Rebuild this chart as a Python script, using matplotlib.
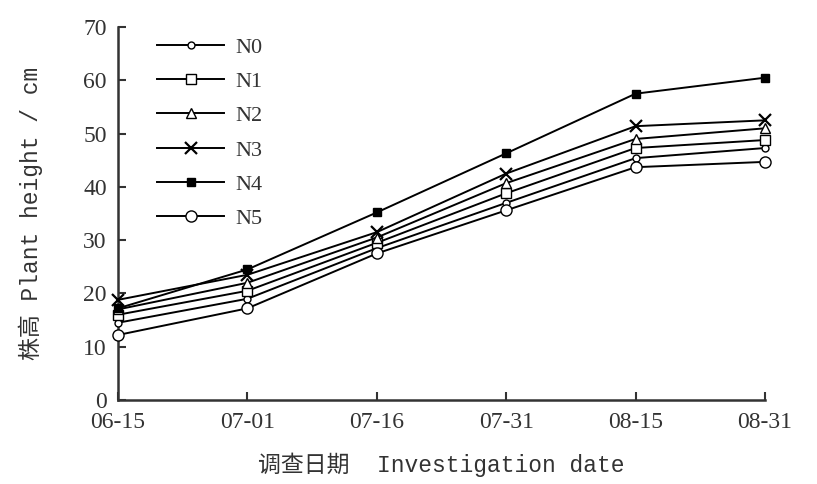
import numpy as np
import matplotlib.pyplot as plt

# 调查日期与各处理株高 (cm)
dates = ["06-15", "07-01", "07-16", "07-31", "08-15", "08-31"]
n0 = [14.5, 19.0, 28.5, 37.0, 45.4, 47.3]
n1 = [16.0, 20.5, 29.5, 38.8, 47.3, 48.8]
n2 = [17.0, 22.0, 30.5, 40.7, 49.0, 51.0]
n3 = [18.8, 23.5, 31.5, 42.5, 51.4, 52.5]
n4 = [17.2, 24.5, 35.2, 46.3, 57.5, 60.5]
n5 = [12.2, 17.2, 27.5, 35.6, 43.7, 44.7]

fig = plt.figure(figsize=(8.17, 4.84), dpi=100)
ax = fig.add_axes([0.1444, 0.1736, 0.7919, 0.7704])

serif = ["Liberation Serif", "Noto Sans CJK SC"]
mono = ["Liberation Mono", "Noto Sans CJK SC"]
x = np.arange(len(dates))

series = [
    ("N0", n0, dict(marker="o", ms=5, mfc="white")),
    ("N1", n1, dict(marker="s", ms=7, mfc="white")),
    ("N2", n2, dict(marker="^", ms=7, mfc="white")),
    ("N3", n3, dict(marker="x", ms=8, mew=1.6)),
    ("N4", n4, dict(marker="s", ms=6, mfc="black")),
    ("N5", n5, dict(marker="o", ms=8, mfc="white")),
]
for name, vals, style in series:
    ax.plot(x, vals, color="black", lw=1.4, mec="black", label=name,
            clip_on=False, zorder=3, **style)

ax.set_xlim(0, 5)
ax.set_ylim(0, 70)
ax.set_xticks(x)
ax.set_xticklabels(dates)
ax.set_yticks(np.arange(0, 71, 10))

for s in ["top", "right"]:
    ax.spines[s].set_visible(False)
for s in ["left", "bottom"]:
    ax.spines[s].set_linewidth(1.8)
    ax.spines[s].set_color("#333333")

ax.tick_params(direction="in", length=6, width=1.5, colors="#333333",
               labelcolor="#333333")
ax.tick_params(axis="x", pad=9)
ax.tick_params(axis="y", pad=8)
for lab in ax.get_xticklabels() + ax.get_yticklabels():
    lab.set_family(serif)
    lab.set_fontsize(17)

ax.set_xlabel("调查日期  Investigation date", family=mono, fontsize=16.5,
              color="#333333", labelpad=14)
ax.set_ylabel("株高 Plant height / cm", family=mono, fontsize=16.5,
              color="#333333", labelpad=29)

leg = ax.legend(loc="upper left", bbox_to_anchor=(0.03, 1.027), frameon=False,
                handlelength=3.0, labelspacing=0.62, handletextpad=0.5,
                prop={"family": serif, "size": 16})
for t in leg.get_texts():
    t.set_color("#333333")

fig.savefig("out.png", dpi=100)
